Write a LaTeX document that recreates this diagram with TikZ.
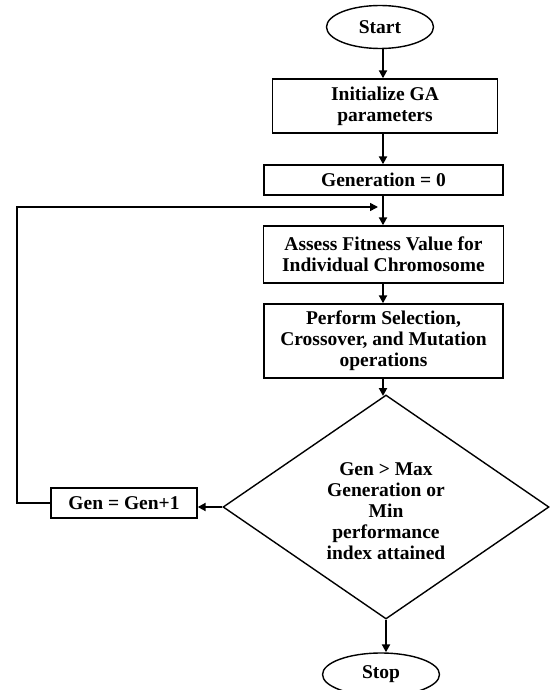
\documentclass[tikz,border=0pt]{standalone}
\usepackage{fontspec}
\setmainfont{Liberation Serif}
\usetikzlibrary{shapes.geometric,arrows.meta}
\begin{document}
\begin{tikzpicture}[x=1pt,y=-1pt,
  every node/.style={font=\fontsize{19.5}{21}\selectfont\bfseries, align=center},
  box/.style={draw, line width=1.4pt, rectangle, inner sep=0pt},
  term/.style={draw, line width=1.4pt, ellipse, inner sep=0pt},
  arr/.style={line width=2pt, -{Triangle[length=8pt,width=8pt]}},
  fb/.style={line width=1.6pt, -{Triangle[length=8pt,width=8pt]}}]
\useasboundingbox (0,0) rectangle (550,690);
\node[term, minimum width=107pt, minimum height=43pt] (start) at (380,27) {Start};
\node[box, minimum width=225pt, minimum height=54pt] (init) at (385,106) {Initialize GA\\parameters};
\node[box, minimum width=239pt, minimum height=30pt] (gen0) at (383.5,180) {Generation = 0};
\node[box, minimum width=240pt, minimum height=57pt] (assess) at (383.5,254.5) {Assess Fitness Value for\\Individual Chromosome};
\node[box, minimum width=239pt, minimum height=74pt] (perform) at (383.5,341) {Perform Selection,\\Crossover, and Mutation\\operations};
\node[diamond, draw, line width=1.4pt, minimum width=326pt, minimum height=224pt, inner sep=0pt] (dia) at (386,507) {};
\node (diatext) at (386,511) {Gen > Max\\Generation or\\Min\\performance\\index attained};
\node[box, minimum width=146pt, minimum height=30pt] (genp) at (124,503) {Gen = Gen+1};
\node[term, minimum width=117pt, minimum height=43pt] (stop) at (381,674.5) {Stop};
\coordinate (lc) at (17,207);
\coordinate (loop) at (378,207);
\draw[arr] (start.south -| 383,0) -- (init.north -| 383,0);
\draw[arr] (init.south -| 383,0) -- (gen0.north -| 383,0);
\draw[arr] (gen0.south -| 383,0) -- (assess.north -| 383,0);
\draw[arr] (assess.south -| 383,0) -- (perform.north -| 383,0);
\draw[arr] (perform.south -| 383,0) -- (383,396);
\draw[arr] (dia.south) -- (dia.south |- stop.north);
\draw[arr] (dia.west) -- (genp.east |- dia.west);
\draw[fb] (genp.west) -- (genp.west -| lc) -- (lc) -- (loop);
\end{tikzpicture}
\end{document}
